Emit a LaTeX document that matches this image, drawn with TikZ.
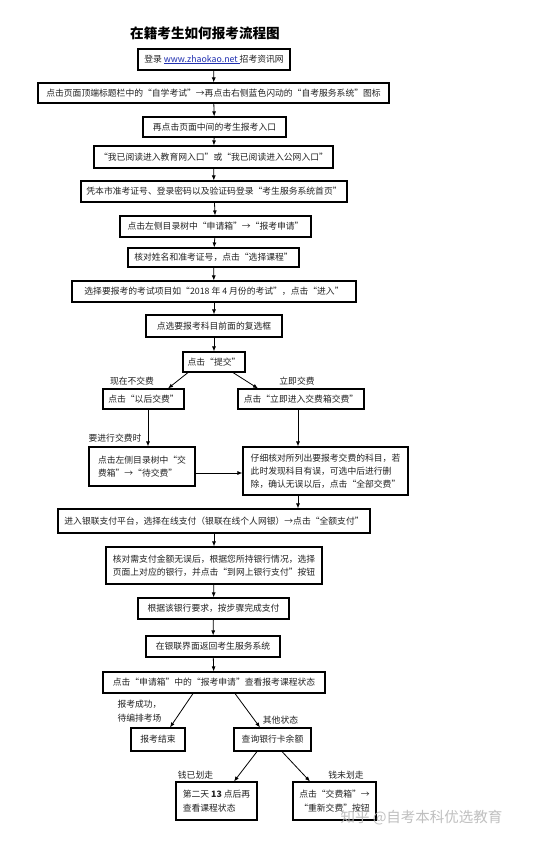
\documentclass[tikz,border=0pt]{standalone}
\usepackage{fontspec}
\setmainfont{Noto Sans CJK SC}
\usetikzlibrary{arrows.meta}
\definecolor{urlblue}{HTML}{1F2FB0}
\definecolor{txt}{HTML}{222222}
\tikzset{
  box/.style={draw=black, line width=1.1pt, inner sep=0pt, text=txt,
    font=\fontsize{8.8}{13.5}\selectfont},
  lbl/.style={inner sep=0pt, text=txt, font=\fontsize{8.8}{14}\selectfont},
  arr/.style={draw=black, line width=0.8pt, -{Latex[length=5pt,width=4pt]}},
}
\begin{document}
\begin{tikzpicture}[x=1pt,y=-1pt]
\useasboundingbox (0,0) rectangle (541,843);
\fill[white] (0,0) rectangle (541,843);
\node[inner sep=0pt, font=\fontsize{13.6}{15}\selectfont\bfseries] (title) at (205,33) {在籍考生如何报考流程图};

\node[box, minimum width=152pt, minimum height=21pt] (n1) at (214,59.5)
  {登录 \textcolor{urlblue}{\underline{www.zhaokao.net\ }}招考资讯网};
\node[box, minimum width=351pt, minimum height=20pt] (n2) at (213.5,93)
  {点击页面顶端标题栏中的“自学考试”→再点击右侧蓝色闪动的“自考服务系统”图标};
\node[box, minimum width=143pt, minimum height=20pt] (n3) at (214.5,127)
  {再点击页面中间的考生报考入口};
\node[box, minimum width=239pt, minimum height=22pt] (n4) at (213.5,157)
  {“我已阅读进入教育网入口”或“我已阅读进入公网入口”};
\node[box, minimum width=266pt, minimum height=21pt] (n5) at (214,191.5)
  {凭本市准考证号、登录密码以及验证码登录“考生服务系统首页”};
\node[box, minimum width=191pt, minimum height=21pt] (n6) at (215.5,226.5)
  {点击左侧目录树中“申请箱”→“报考申请”};
\node[box, minimum width=171pt, minimum height=19pt] (n7) at (213.5,257.5)
  {核对姓名和准考证号，点击“选择课程”};
\node[box, minimum width=284pt, minimum height=21pt] (n8) at (214,291.5)
  {选择要报考的考试项目如“2018 年 4 月份的考试”，点击“进入”};
\node[box, minimum width=136pt, minimum height=22pt] (n9) at (214,326)
  {点选要报考科目前面的复选框};
\node[box, minimum width=62pt, minimum height=20pt] (n10) at (214,362)
  {点击“提交”};
\node[box, minimum width=81pt, minimum height=20pt] (n11) at (143.5,399)
  {点击“以后交费”};
\node[box, minimum width=126pt, minimum height=20pt] (n12) at (301,399)
  {点击“立即进入交费箱交费”};
\node[box, minimum width=106pt, minimum height=39pt, align=left] (n13) at (142,466.5)
  {点击左侧目录树中“交\\费箱”→“待交费”};
\node[box, minimum width=165pt, minimum height=48pt, align=left, font=\fontsize{8.8}{13}\selectfont] (n14) at (325.5,471)
  {仔细核对所列出要报考交费的科目，若\\此时发现科目有误，可选中后进行删\\除，确认无误以后，点击“全部交费”};
\node[box, minimum width=312pt, minimum height=24pt] (n15) at (214,521)
  {进入银联支付平台，选择在线支付（银联在线个人网银）→点击“全额支付”};
\node[box, minimum width=216pt, minimum height=37pt, align=left] (n16) at (214,565.5)
  {核对需支付金额无误后，根据您所持银行情况，选择\\页面上对应的银行，并点击“到网上银行支付”按钮};
\node[box, minimum width=151pt, minimum height=21pt] (n17) at (213.5,608.5)
  {根据该银行要求，按步骤完成支付};
\node[box, minimum width=134pt, minimum height=21pt] (n18) at (213,646.5)
  {在银联界面返回考生服务系统};
\node[box, minimum width=222pt, minimum height=21pt] (n19) at (214,682.5)
  {点击“申请箱”中的“报考申请”查看报考课程状态};
\node[box, minimum width=54pt, minimum height=23pt] (n20) at (158,739.5)
  {报考结束};
\node[box, minimum width=77pt, minimum height=23pt] (n21) at (272.5,739.5)
  {查询银行卡余额};
\node[box, minimum width=81pt, minimum height=38pt, align=left] (n22) at (216.5,801)
  {第二天 \textbf{13} 点后再\\查看课程状态};
\node[box, minimum width=83pt, minimum height=38pt, align=center] (n23) at (334.5,801)
  {点击“交费箱”→\\“重新交费”按钮};

\node[lbl] (l1) at (132,381) {现在不交费};
\node[lbl] (l2) at (297,381) {立即交费};
\node[lbl] (l3) at (115,438) {要进行交费时};
\node[lbl, align=left] (l4) at (139.5,711) {报考成功，\\待编排考场};
\node[lbl] (l5) at (280.5,720) {其他状态};
\node[lbl] (l6) at (195.5,775) {钱已划走};
\node[lbl] (l7) at (346,775) {钱未划走};

\node[inner sep=0pt, text=gray!55, opacity=0.9, font=\fontsize{14.5}{16}\selectfont] (wm) at (421.5,818) {知乎 @自考本科优选教育};

\draw[arr] (n1) -- (n2);
\draw[arr] (n2) -- (n3);
\draw[arr] (n3) -- (n4);
\draw[arr] (n4) -- (n5);
\draw[arr] (n5) -- (n6);
\draw[arr] (n6) -- (n7);
\draw[arr] (n7) -- (n8);
\draw[arr] (n8) -- (n9);
\draw[arr] (n9) -- (n10);
\draw[arr] ([xshift=-26pt]n10.south) -- ([xshift=24.5pt]n11.north);
\draw[arr] ([xshift=19pt]n10.south) -- ([xshift=-43pt]n12.north);
\draw[arr] ([xshift=4.5pt]n11.south) -- ([xshift=4.5pt]n11.south |- n13.north);
\draw[arr] ([xshift=-3pt]n12.south) -- ([xshift=-3pt]n12.south |- n14.north);
\draw[arr] ([yshift=-6.5pt]n13.east) -- ([yshift=-6.5pt]n13.east -| n14.west);
\draw[arr] ([xshift=-3pt]n12.south |- n14.south) -- ([xshift=-3pt]n12.south |- n15.north);
\draw[arr] (n15) -- (n16);
\draw[arr] (n16) -- (n17);
\draw[arr] (n17) -- (n18);
\draw[arr] (n18) -- (n19);
\draw[arr] ([xshift=-21pt]n19.south) -- ([xshift=12pt]n20.north);
\draw[arr] ([xshift=21pt]n19.south) -- ([xshift=-12.5pt]n21.north);
\draw[arr] ([xshift=-15.5pt]n21.south) -- ([xshift=17.5pt]n22.north);
\draw[arr] ([xshift=9.5pt]n21.south) -- ([xshift=-24.5pt]n23.north);
\end{tikzpicture}
\end{document}
